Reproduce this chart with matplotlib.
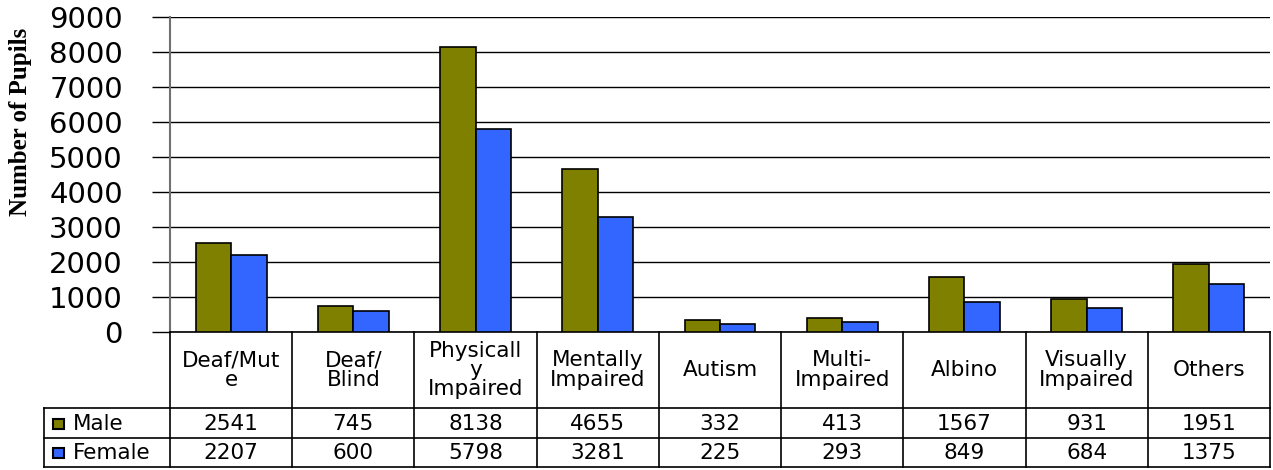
import matplotlib
matplotlib.use('Agg')
import matplotlib.pyplot as plt
import matplotlib.transforms as mtransforms
from matplotlib.patches import Rectangle
import numpy as np

# --- DATOS ---
categorias = ["Deaf/Mut\ne", "Deaf/\nBlind", "Physicall\ny\nImpaired", "Mentally\nImpaired",
              "Autism", "Multi-\nImpaired", "Albino", "Visually\nImpaired", "Others"]
male = [2541, 745, 8138, 4655, 332, 413, 1567, 931, 1951]
female = [2207, 600, 5798, 3281, 225, 293, 849, 684, 1375]
series = ["Male", "Female"]
colores = ["#808000", "#3366FF"]

W, H = 1273, 470
fig = plt.figure(figsize=(W / 100, H / 100), dpi=100)
ax = fig.add_axes([170 / W, 1 - 332 / H, 1100 / W, 315 / H])

x = np.arange(len(categorias))
bw = 0.29
ax.bar(x - bw / 2, male, bw, color=colores[0], edgecolor='black', linewidth=1.2, zorder=3)
ax.bar(x + bw / 2, female, bw, color=colores[1], edgecolor='black', linewidth=1.2, zorder=3)

ax.set_xlim(-0.5, len(categorias) - 0.5)
ax.set_ylim(0, 9000)
ax.set_yticks(range(0, 9001, 1000))
ax.set_xticks([])
ax.tick_params(axis='y', labelsize=21, length=13, width=1, pad=21)
for lab in ax.get_yticklabels():
    lab.set_family('DejaVu Sans')
ax.grid(axis='y', color='black', linewidth=1, zorder=0)
for s in ['top', 'right']:
    ax.spines[s].set_visible(False)
ax.spines['left'].set_color('#707070')
ax.spines['left'].set_linewidth(1.5)
ax.spines['bottom'].set_linewidth(1.2)

fig.text(21 / W, 1 - 122 / H, "Number of Pupils", rotation=90, ha='center', va='center',
         fontsize=18, fontweight='bold', family='Liberation Serif')

# --- TABLA DE DATOS ---
tr = mtransforms.blended_transform_factory(ax.transData, fig.transFigure)
fy = lambda py: 1 - py / H
xl, xr = -0.5, len(categorias) - 0.5
lw = 1.2
# lineas horizontales
for py in [408, 438, 467]:
    fig.add_artist(plt.Line2D([44 / W, 1270 / W], [fy(py), fy(py)], color='black', lw=lw))
# verticales
for b in np.arange(xl, xr + 0.01, 1.0):
    fig.add_artist(plt.Line2D([b, b], [fy(332), fy(467)], color='black', lw=lw, transform=tr))
fig.add_artist(plt.Line2D([44 / W, 44 / W], [fy(408), fy(467)], color='black', lw=lw))

tfont = dict(family='DejaVu Sans', fontsize=15.5)
for i, cat in enumerate(categorias):
    fig.text(i, fy(370), cat, ha='center', va='center', transform=tr, linespacing=0.95, **tfont)
    fig.text(i, fy(424), str(male[i]), ha='center', va='center', transform=tr, **tfont)
    fig.text(i, fy(453), str(female[i]), ha='center', va='center', transform=tr, **tfont)

for nombre, col, py in zip(series, colores, [424, 453]):
    fig.add_artist(Rectangle((53 / W, fy(py + 5)), 11 / W, 10 / H, facecolor=col,
                             edgecolor='black', lw=1.5, transform=fig.transFigure))
    fig.text(73 / W, fy(py), nombre, ha='left', va='center', **tfont)

fig.savefig('out.png', dpi=100)
